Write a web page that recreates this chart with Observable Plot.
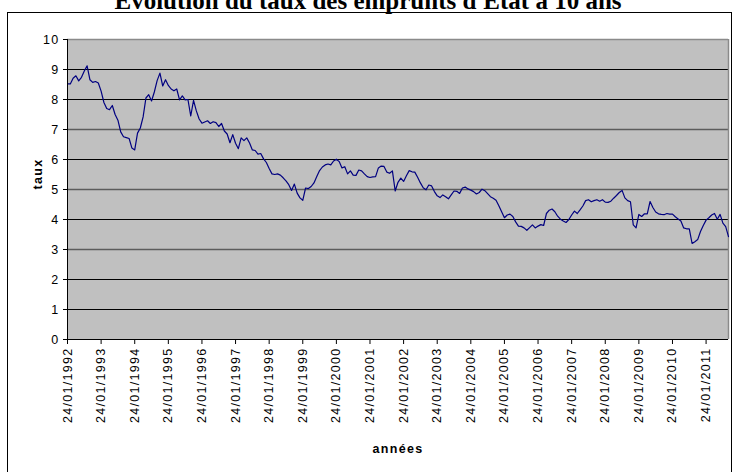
<!DOCTYPE html>
<html><head><meta charset="utf-8">
<script src="https://cdn.jsdelivr.net/npm/d3@7"></script>
<script src="https://cdn.jsdelivr.net/npm/@observablehq/plot@0.6"></script>
<style>
html,body{margin:0;padding:0;background:#fff;}
#wrap{position:relative;width:736px;height:472px;overflow:hidden;}
#frame{position:absolute;left:7px;top:12px;width:725px;height:480px;border:1px solid #000;box-sizing:border-box;}
#title{position:absolute;left:0;top:-14px;width:736px;text-align:center;font:bold 25px "Liberation Serif","Times New Roman",serif;line-height:30px;white-space:nowrap;}
#chart{position:absolute;left:0;top:0;}
#chart svg text{letter-spacing:1.3px;}
</style></head>
<body><div id="wrap"><div id="frame"></div><div id="title"></div><div id="chart"></div></div>
<script>
const title = "Évolution du taux des emprunts d'Etat à 10 ans";
const yLabel = "taux";
const xLabel = "années";
const tickLabels = ["24/01/1992","24/01/1993","24/01/1994","24/01/1995","24/01/1996","24/01/1997","24/01/1998","24/01/1999","24/01/2000","24/01/2001","24/01/2002","24/01/2003","24/01/2004","24/01/2005","24/01/2006","24/01/2007","24/01/2008","24/01/2009","24/01/2010","24/01/2011"];
const yTicks = [0,1,2,3,4,5,6,7,8,9,10];
// monthly 10-year yields, Jan 1992 onward (one value per month)
const rates = [
8.52,8.52,8.71,8.79,8.62,8.74,8.95,9.12,8.66,8.57,8.6,8.55,
8.28,7.9,7.7,7.66,7.8,7.5,7.31,6.92,6.76,6.73,6.7,6.38,
6.32,6.88,7.05,7.42,8.05,8.16,7.95,8.25,8.63,8.88,8.45,8.66,
8.47,8.35,8.29,8.35,7.99,8.12,7.99,8.0,7.45,7.97,7.62,7.35,
7.21,7.25,7.29,7.2,7.26,7.23,7.1,7.2,6.95,6.85,6.56,6.83,
6.54,6.36,6.72,6.63,6.72,6.55,6.32,6.3,6.18,6.2,6.02,5.9,
5.7,5.52,5.5,5.52,5.48,5.39,5.29,5.16,4.97,5.18,4.88,4.72,
4.64,5.05,5.03,5.1,5.22,5.43,5.63,5.75,5.82,5.85,5.82,5.95,
6.01,5.93,5.72,5.76,5.52,5.62,5.48,5.47,5.65,5.62,5.52,5.43,
5.4,5.42,5.43,5.72,5.78,5.77,5.58,5.54,5.62,4.95,5.24,5.38,
5.27,5.46,5.63,5.59,5.58,5.41,5.22,5.06,4.99,5.15,5.12,4.93,
4.79,4.73,4.82,4.76,4.69,4.82,4.95,4.94,4.87,5.05,5.08,5.02,
4.98,4.93,4.85,4.9,5.01,4.96,4.86,4.76,4.71,4.64,4.46,4.26,
4.06,4.15,4.18,4.1,3.92,3.78,3.77,3.72,3.64,3.73,3.82,3.72,
3.78,3.83,3.8,4.2,4.31,4.35,4.26,4.11,4.01,3.95,3.9,4.0,
4.15,4.28,4.2,4.32,4.45,4.63,4.66,4.59,4.63,4.66,4.61,4.66,
4.58,4.57,4.61,4.71,4.8,4.9,4.97,4.72,4.63,4.59,3.82,3.72,
4.17,4.1,4.19,4.19,4.6,4.4,4.25,4.19,4.17,4.16,4.2,4.18,
4.18,4.09,4.02,3.95,3.72,3.69,3.69,3.2,3.26,3.33,3.6,3.8,
3.98,4.06,4.15,4.2,4.01,4.17,3.88,3.76,3.43
];

document.getElementById("title").textContent = title;
const data = rates.map((v, i) => ({i, v}));
const tickIdx = tickLabels.map((_, k) => k * 12);
const inner = yTicks.filter(d => d > 0 && d < 10);
const grayGrid = inner.filter(d => d === 3 || d === 5 || d === 7);
const blackGrid = inner.filter(d => !grayGrid.includes(d));
const last = rates.length - 1;

const chart = Plot.plot({
  width: 736, height: 472,
  marginLeft: 67, marginRight: 8, marginTop: 39, marginBottom: 133,
  style: {fontFamily: "'Liberation Sans', Arial, sans-serif", fontSize: "12.5px", color: "#000", background: "transparent", overflow: "visible"},
  x: {domain: [0, last]},
  y: {domain: [0, 10]},
  marks: [
    Plot.frame({fill: "#c0c0c0", stroke: "none"}),
    Plot.ruleY(blackGrid, {stroke: "#000", strokeWidth: 1}),
    Plot.ruleY(grayGrid, {stroke: "#5c5c5c", strokeWidth: 1.6}),
    Plot.ruleY([10], {stroke: "#8a8a8a", strokeWidth: 1.5}),
    Plot.ruleX([last], {stroke: "#8a8a8a", strokeWidth: 1.5}),
    Plot.lineY(data, {x: "i", y: "v", stroke: "#000080", strokeWidth: 1.2}),
    Plot.ruleX([0], {stroke: "#000", strokeWidth: 1}),
    Plot.ruleY([0], {stroke: "#000", strokeWidth: 1}),
    Plot.axisY({ticks: yTicks, tickSize: 4, tickPadding: 4, tickFormat: d => String(d), label: null}),
    Plot.axisX({ticks: tickIdx, tickSize: 5, tickPadding: 3, tickRotate: -90, tickFormat: i => tickLabels[i / 12], label: null}),
    Plot.text([yLabel], {text: d => d, frameAnchor: "left", dx: -30, rotate: -90, fontWeight: "bold"}),
    Plot.text([xLabel], {text: d => d, frameAnchor: "bottom", dy: 113, fontWeight: "bold"})
  ]
});
document.getElementById("chart").appendChild(chart);
</script>
</body></html>
